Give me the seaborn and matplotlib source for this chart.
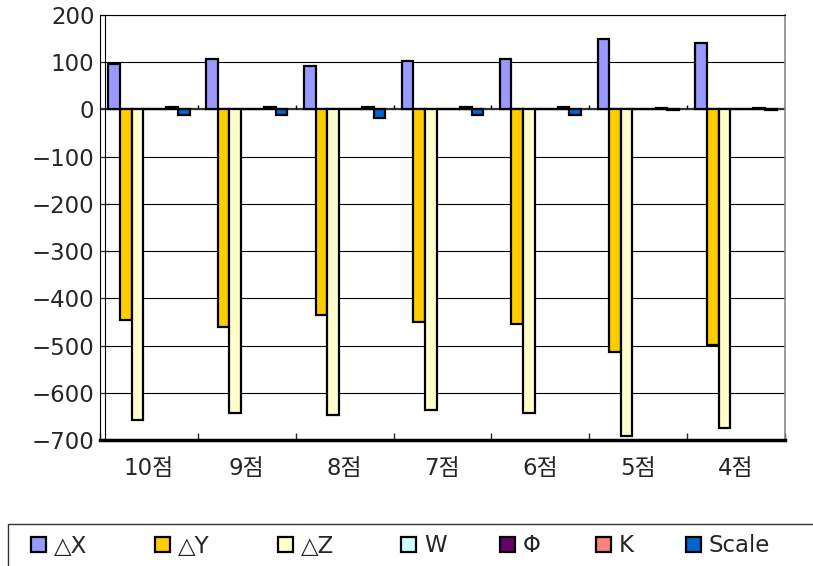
import matplotlib
matplotlib.use("Agg")
import matplotlib.pyplot as plt
from matplotlib.patches import Rectangle
import pandas as pd
import seaborn as sns

# survey points and the adjusted parameters per point
points = ["10점", "9점", "8점", "7점", "6점", "5점", "4점"]
series = ["△X", "△Y", "△Z", "W", "Φ", "K", "Scale"]
delta_x = [97, 106, 92, 102, 106, 150, 140]
delta_y = [-446, -460, -436, -451, -455, -513, -498]
delta_z = [-657, -643, -647, -637, -643, -691, -675]
omega = [0, 0, 0, 0, 0, 0, 0]
phi = [1, 1, 1, 1, 1, 1, 1]
kappa = [5, 5, 5, 5, 5, 4, 4]
scale = [-12, -12, -18, -12, -12, -2, -2]
colors = ["#9999FF", "#FFCC00", "#FFFFCC", "#CCFFFF", "#660066", "#FF8080", "#0066CC"]
yticks = list(range(-700, 201, 100))

sns.set_style("white")
plt.rcParams["font.family"] = ["DejaVu Sans", "Noto Sans CJK KR"]

values = delta_x + delta_y + delta_z + omega + phi + kappa + scale
df = pd.DataFrame({
    "point": points * len(series),
    "series": [s for s in series for _ in points],
    "value": values,
})

W, H = 813, 566
fig = plt.figure(figsize=(W / 100, H / 100), dpi=100)
ax = fig.add_axes([100 / W, 1 - 440 / H, 685 / W, 425 / H])

ax.axhline(0, color="#333333", lw=1.6, zorder=0.6)
sns.barplot(data=df, x="point", y="value", hue="series", order=points,
            hue_order=series, palette=colors, saturation=1, edgecolor="black",
            linewidth=1.6, width=0.83, gap=0, errorbar=None, ax=ax)

ax.set_xlim(-0.5, len(points) - 0.5)
ax.set_ylim(-700, 200)
ax.set_xlabel("")
ax.set_ylabel("")

# horizontal gridlines and y axis
ax.set_yticks(yticks)
ax.set_yticklabels([str(v).replace("-", "\u2212") for v in yticks])
ax.yaxis.grid(True, color="black", lw=0.8)
ax.set_axisbelow(True)
ax.tick_params(axis="y", direction="in", length=4, width=0.8, pad=4,
               labelsize=16.5, left=True)

# category labels with boundary ticks
bounds = [i + 0.5 for i in range(-1, len(points))]
ax.set_xticks(bounds, minor=True)
ax.tick_params(axis="x", which="major", length=0, pad=12, labelsize=16.5)
ax.tick_params(axis="x", which="minor", direction="in", length=5, width=1,
               bottom=True)
ax.vlines(bounds[1:], 0, 10, color="black", lw=1, zorder=0.7)

# back wall edge
ax.axvline(-0.5 + 5 / 97.9, color="black", lw=0.8, zorder=0.7)

for side in ("left", "top"):
    ax.spines[side].set_color("black")
    ax.spines[side].set_linewidth(0.8)
ax.spines["right"].set_color("#888888")
ax.spines["right"].set_linewidth(1.2)
ax.spines["bottom"].set_color("black")
ax.spines["bottom"].set_linewidth(2.5)

# legend along the bottom, one slot per series
handles, labels = ax.get_legend_handles_labels()
ax.get_legend().remove()
slot_px = [31, 155, 278, 401, 500, 596, 686]
for handle, label, x0 in zip(handles, labels, slot_px):
    fig.legend([handle], [label], loc="center left",
               bbox_to_anchor=(x0 / W, 1 - 546 / H), frameon=False,
               fontsize=16.5, handlelength=0.65, handleheight=0.65,
               handletextpad=0.35, borderpad=0, borderaxespad=0)
fig.add_artist(Rectangle((8 / W, -0.2), 1.0, 0.2 + (1 - 524 / H),
                         transform=fig.transFigure, fill=False,
                         edgecolor="#333333", lw=1))

fig.savefig("out.png", dpi=100)
